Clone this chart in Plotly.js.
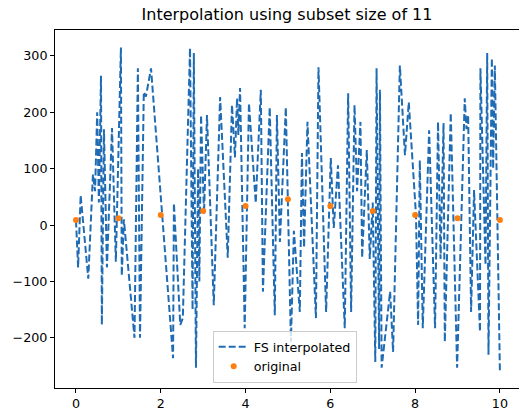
<!DOCTYPE html>
<html>
<head>
<meta charset="utf-8">
<script src="https://cdn.plot.ly/plotly-3.0.1.min.js"></script>
<style>html,body{margin:0;padding:0;background:#fff;}#chart{width:519px;height:418px;}</style>
</head>
<body>
<div id="chart"></div>
<script>
// Interpolated series
const interpX = [0.00,0.05,0.11,0.29,0.40,0.45,0.50,0.54,0.59,0.61,0.66,0.73,0.85,0.94,1.06,1.08,1.13,1.38,1.46,1.51,1.60,1.65,1.77,
  2.29,2.31,2.46,2.52,2.69,2.75,2.78,2.83,2.88,2.91,2.95,3.02,3.09,3.25,3.40,3.58,3.68,3.75,3.80,3.83,3.87,3.98,
  4.08,4.24,4.36,4.41,4.57,4.69,4.74,4.81,4.95,5.07,5.14,5.28,5.33,5.38,5.46,5.66,5.72,5.90,
  6.01,6.08,6.18,6.34,6.42,6.49,6.57,6.63,6.71,6.75,6.86,6.93,7.00,7.06,7.09,7.15,7.17,7.21,7.41,7.48,7.64,7.76,7.85,7.95,
  8.02,8.07,8.11,8.18,8.33,8.47,8.54,8.60,8.67,8.70,8.84,8.99,9.17,9.21,9.25,9.32,9.39,9.53,9.54,9.66,9.70,9.73,9.81,9.84,9.88,10.00];
const interpY = [8,-75,53,-95,90,60,200,40,265,-177,170,-75,172,-65,315,-90,10,-200,278,-200,236,228,278,
  -236,39,-177,-165,314,-150,305,-253,100,-100,195,20,195,-142,227,-58,213,120,225,160,243,-183,
  216,39,240,-118,209,-160,195,-30,209,-207,-10,-154,128,-40,183,-165,280,-154,
  119,-5,106,-183,234,-154,213,60,183,-58,133,-60,40,-243,278,-220,240,-253,-118,-225,283,124,218,100,
  18,-177,115,-183,168,-183,183,-60,181,-207,199,-253,225,170,195,-154,62,-189,278,-71,305,-230,296,100,283,-262];

// Original samples
const origX = [0,1,2,3,4,5,6,7,8,9,10];
const origY = [9,12,18,25,34,46,34,25,18,12,9];

const xTicks = [0,2,4,6,8,10];
const yTicks = [-200,-100,0,100,200,300];

const traces = [
  {x: interpX, y: interpY, type: 'scatter', mode: 'lines', name: 'FS interpolated',
   line: {color: '#1f6cb4', width: 2, dash: '7px,3px'}},
  {x: origX, y: origY, type: 'scatter', mode: 'markers', name: 'original',
   marker: {color: '#ff7f0e', size: 6}}
];

const axisCommon = {
  showgrid: false, zeroline: false, showline: true, mirror: true,
  linecolor: '#000', linewidth: 1, ticks: 'outside', ticklen: 4, tickwidth: 1, tickcolor: '#000',
  tickfont: {family: 'DejaVu Sans', size: 12.7, color: '#000'}
};

const layout = {
  width: 519, height: 418,
  margin: {l: 55, r: 0, t: 30, b: 30},
  paper_bgcolor: '#fff', plot_bgcolor: '#fff',
  title: {text: 'Interpolation using subset size of 11', x: 0.5, xref: 'paper', y: 0.965, yref: 'container', yanchor: 'middle',
          font: {family: 'DejaVu Sans', size: 16, color: '#000'}},
  xaxis: Object.assign({}, axisCommon, {range: [-0.495, 10.45], tickvals: xTicks, ticktext: xTicks.map(String)}),
  yaxis: Object.assign({}, axisCommon, {range: [-289, 346], tickvals: yTicks, ticktext: yTicks.map(v => v < 0 ? '\u2212' + Math.abs(v) : String(v))}),
  showlegend: true,
  legend: {x: 0.495, xanchor: 'center', y: 0.014, yanchor: 'bottom', bgcolor: 'rgba(255,255,255,0.8)',
           bordercolor: '#cccccc', borderwidth: 1, font: {family: 'DejaVu Sans', size: 12.7, color: '#000'}}
};

Plotly.newPlot('chart', traces, layout, {staticPlot: true, displayModeBar: false});
</script>
</body>
</html>
